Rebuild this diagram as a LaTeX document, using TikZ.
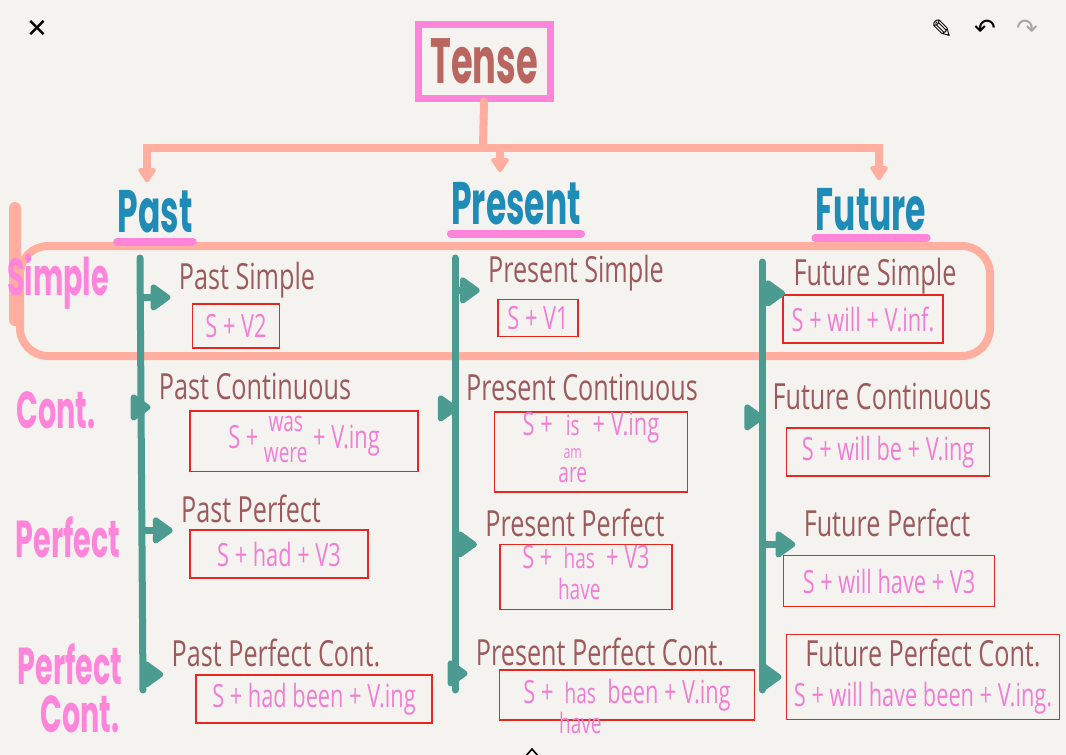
\documentclass[tikz,border=0pt]{standalone}
\usepackage{fontspec}
\usepackage{graphicx}
\setmainfont{Open Sans}
\newfontfamily\headfont{Poppins}
\newfontfamily\symfont{DejaVu Sans}
\usetikzlibrary{arrows.meta}

\definecolor{paper}{HTML}{F5F3EF}
\definecolor{tensered}{HTML}{B8665F}
\definecolor{hotpink}{HTML}{FF85DA}
\definecolor{salmon}{HTML}{FFAE9F}
\definecolor{inkblue}{HTML}{1F8CB7}
\definecolor{tealink}{HTML}{4B9B91}
\definecolor{brownink}{HTML}{9C5A5D}
\definecolor{formpink}{HTML}{F27DD4}
\definecolor{boxred}{HTML}{E5281F}

% narrow hand-lettering
\newcommand{\slim}[1]{\scalebox{0.7}[1]{#1}}
\newcommand{\fslim}[1]{\scalebox{0.68}[1]{#1}}
\newcommand{\tall}[1]{\scalebox{0.55}[1]{#1}}
\newcommand{\stk}[2][c]{{\fontsize{14}{16}\selectfont\renewcommand{\arraystretch}{0.95}%
  \begin{tabular}[#1]{@{}c@{}}#2\end{tabular}}}
\newcommand{\nodepth}[1]{\raisebox{0pt}[\height][0pt]{#1}}

\begin{document}
\begin{tikzpicture}[
  x=0.5pt, y=-0.5pt,
  font=\fontsize{16}{18}\selectfont,
  every node/.style={align=center, inner sep=0pt},
  title/.style={draw=hotpink, line width=3.5pt, minimum width=66pt, minimum height=37pt,
    text=tensered, font=\headfont\bfseries\fontsize{32}{34}\selectfont},
  tensehead/.style={text=inkblue, font=\headfont\bfseries\fontsize{30}{32}\selectfont},
  rowlab/.style={text=hotpink, font=\headfont\bfseries\fontsize{26}{24}\selectfont},
  sub/.style={text=brownink, text height=13pt, text depth=4pt, font=\fontsize{18}{20}\selectfont},
  form/.style={draw=boxred, line width=0.9pt, text=formpink, font=\fontsize{16}{18}\selectfont},
  split/.style={line width=4pt, draw=salmon, line cap=round},
  splitarr/.style={split, -{Triangle[round, length=8pt, width=10pt]}},
  spine/.style={line width=3.5pt, draw=tealink, line cap=round},
  twig/.style={line width=3.5pt, draw=tealink, -{Triangle[round, length=11pt, width=15pt]}},
  uline/.style={line width=4pt, draw=hotpink, line cap=round},
  icon/.style={font=\symfont\fontsize{13}{13}\selectfont}
]
\useasboundingbox (0,0) rectangle (1066,755);
\fill[paper] (0,0) rectangle (1066,755);

% app toolbar
\node[icon] (close) at (37,29) {✕};
\node[icon] (pen) at (942,29) {✎};
\node[icon] (undo) at (985,29) {↶};
\node[icon, text=gray!70] (redo) at (1027,29) {↷};
\draw[line width=0.8pt] (525,757) -- (532,749) -- (539,757);

% simple row highlight
\draw[split, rounded corners=14pt] (20,246) rectangle (990,356);
\draw[split, line width=6pt] (15,208) -- (15,320);

% root + tenses
\node[title] (tense) at (484,61) {\tall{Tense}};
\node[tensehead] (past) at (155,212) {\tall{Past}};
\node[tensehead] (pres) at (516,204) {\tall{Present}};
\node[tensehead] (fut) at (871,210) {\tall{Future}};

\draw[uline] ([yshift=-4pt]past.south west) -- ([yshift=-4pt]past.south east);
\draw[uline] ([yshift=-4pt]pres.south west) -- ([yshift=-4pt]pres.south east);
\draw[uline] ([yshift=-3pt]fut.south west) -- ([yshift=-3pt]fut.south east);

\coordinate (hub) at (483,148);
\draw[split] (tense.south) -- (hub);
\draw[splitarr] (hub) -| ([xshift=-4pt,yshift=4pt]past.north);
\draw[splitarr] (hub) -| ([xshift=-8pt,yshift=5pt]pres.north);
\draw[splitarr] (hub) -| ([xshift=4pt,yshift=4pt]fut.north);

% row labels
\node[rowlab] (rsimple) at (58,282) {\tall{Simple}};
\node[rowlab] (rcont) at (56,410) {\tall{Cont.}};
\node[rowlab] (rperf) at (68,537) {\tall{Perfect}};
\node[rowlab] (rpcont) at (70,688) {\tall{Perfect}\\\hspace*{10pt}\tall{Cont.}};

% spines
\coordinate (pTop) at (140,258);
\coordinate (pBot) at (143,690);
\coordinate (rTop) at (455,258);
\coordinate (rBot) at (455,690);
\coordinate (fTop) at (762,262);
\coordinate (fBot) at (762,690);
\draw[spine] (pTop) -- (pBot);
\draw[spine] (rTop) -- (rBot);
\draw[spine] (fTop) -- (fBot);

% past
\node[sub] (pS) at (247,280) {\slim{Past Simple}};
\node[form, minimum width=43.5pt, minimum height=22pt] (pSf) at (236,326) {\fslim{S + V2}};
\node[sub] (pC) at (255,390) {\slim{Past Continuous}};
\node[form, minimum width=114pt, minimum height=29pt] (pCf) at (304,441)
  {\fslim{S + \stk{was\\were} + V.ing}};
\node[sub] (pP) at (251,513) {\slim{Past Perfect}};
\node[form, minimum width=89pt, minimum height=24pt] (pPf) at (279,554) {\fslim{S + had + V3}};
\node[sub] (pPC) at (276,657) {\slim{Past Perfect Cont.}};
\node[form, minimum width=118pt, minimum height=24pt] (pPCf) at (314,699) {\fslim{S + had been + V.ing}};

% present
\node[sub] (rS) at (576,273) {\slim{Present Simple}};
\node[form, minimum width=40pt, minimum height=18.5pt] (rSf) at (538,318) {\fslim{S + V1}};
\node[sub] (rC) at (582,391) {\slim{Present Continuous}};
\node[form, minimum width=96.5pt, minimum height=40pt] (rCf) at (591,452)
  {\fslim{S + \stk[t]{is\\[-4pt]{\fontsize{9}{9}\selectfont am}\\[-3pt]are} + V.ing}};
\node[sub] (rP) at (575,527) {\slim{Present Perfect}};
\node[form, minimum width=86pt, minimum height=32.5pt] (rPf) at (586,577)
  {\fslim{S + \stk[t]{has\\have} + V3}};
\node[sub] (rPC) at (600,656) {\slim{Present Perfect Cont.}};
\node[form, minimum width=127.5pt, minimum height=25pt] (rPCf) at (627,695)
  {\fslim{S + \nodepth{\stk[t]{has\\have}} been + V.ing}};

% future
\node[sub] (fS) at (875,276) {\slim{Future Simple}};
\node[form, minimum width=80pt, minimum height=24pt] (fSf) at (863,319) {\fslim{S + will + V.inf.}};
\node[sub] (fC) at (882,400) {\slim{Future Continuous}};
\node[form, minimum width=101.5pt, minimum height=24pt] (fCf) at (888,452) {\fslim{S + will be + V.ing}};
\node[sub] (fP) at (887,527) {\slim{Future Perfect}};
\node[form, minimum width=105.5pt, minimum height=25.5pt] (fPf) at (889,581) {\fslim{S + will have + V3}};
\node[form, minimum width=136.5pt, minimum height=42.5pt] (fPCf) at (923,677)
  {{\color{brownink}\fontsize{18}{20}\selectfont\slim{Future Perfect Cont.}}\\[2pt]\fslim{S + will have been + V.ing.}};

% branches
\draw[twig] (pTop |- pS.south) -- ([xshift=-4pt]pS.south west);
\draw[twig] (pTop |- pC.south) -- ([xshift=-4pt]pC.south west);
\draw[twig] (pTop |- pP.south) -- ([xshift=-4pt]pP.south west);
\draw[twig] (pTop |- pPC.south) -- ([xshift=-4pt]pPC.south west);
\draw[twig] (rTop |- rS.south) -- ([xshift=-4pt]rS.south west);
\draw[twig] (rTop |- rC.south) -- ([xshift=-4pt]rC.south west);
\draw[twig] (rTop |- rP.south) -- ([xshift=-4pt]rP.south west);
\draw[twig] (rTop |- rPC.south) -- ([xshift=-4pt]rPC.south west);
\draw[twig] (fTop |- fS.south) -- ([xshift=-4pt]fS.south west);
\draw[twig] (fTop |- fC.south) -- ([xshift=-4pt]fC.south west);
\draw[twig] (fTop |- fP.south) -- ([xshift=-4pt]fP.south west);
\draw[twig] (fTop |- fPCf.west) -- ([xshift=-2pt]fPCf.west);
\end{tikzpicture}
\end{document}
